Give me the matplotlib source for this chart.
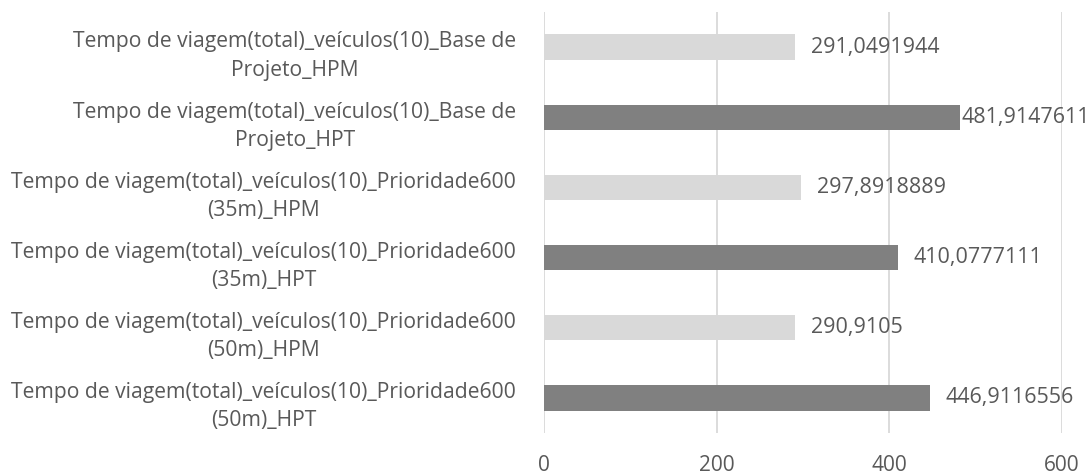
import matplotlib.pyplot as plt
import numpy as np

# Dados
categorias = [
    "Tempo de viagem(total)_veículos(10)_Base de\nProjeto_HPM",
    "Tempo de viagem(total)_veículos(10)_Base de\nProjeto_HPT",
    "Tempo de viagem(total)_veículos(10)_Prioridade600\n(35m)_HPM",
    "Tempo de viagem(total)_veículos(10)_Prioridade600\n(35m)_HPT",
    "Tempo de viagem(total)_veículos(10)_Prioridade600\n(50m)_HPM",
    "Tempo de viagem(total)_veículos(10)_Prioridade600\n(50m)_HPT",
]
valores = [291.0491944, 481.9147611, 297.8918889, 410.0777111, 290.9105, 446.9116556]
cores = ["#D9D9D9", "#808080", "#D9D9D9", "#808080", "#D9D9D9", "#808080"]
xticks = [0, 200, 400, 600]

plt.rcParams['font.family'] = ['Open Sans', 'DejaVu Sans']
texto = "#595959"

fig = plt.figure(figsize=(10.92, 4.72), dpi=100)
ax = fig.add_axes([544 / 1092, 1 - 433 / 472, (1062 - 544) / 1092, 421 / 472])

y = np.arange(len(categorias))
ax.barh(y, valores, height=0.36, color=cores, zorder=3)
ax.set_ylim(len(categorias) - 0.5, -0.5)
ax.set_xlim(0, 600)
ax.set_xticks(xticks)
ax.set_yticks(y + 0.04)
ax.set_yticklabels(categorias, fontsize=15.2, color=texto, ha='right',
                   multialignment='center', linespacing=1.45)
ax.tick_params(axis='y', length=0, pad=20)
ax.tick_params(axis='x', length=0, pad=16, labelsize=15, labelcolor=texto)
ax.grid(axis='x', color="#D9D9D9", linewidth=1.3, zorder=0)
for s in ax.spines.values():
    s.set_visible(False)

# rótulos de dados (o Excel encosta o rótulo que não cabe na área)
for yi, v in zip(y, valores):
    ax.text(min(v + 18, 484), yi, str(v).replace('.', ','), va='center', ha='left',
            fontsize=15.5, color=texto, zorder=4, clip_on=False)

fig.savefig("out.png", dpi=100)
